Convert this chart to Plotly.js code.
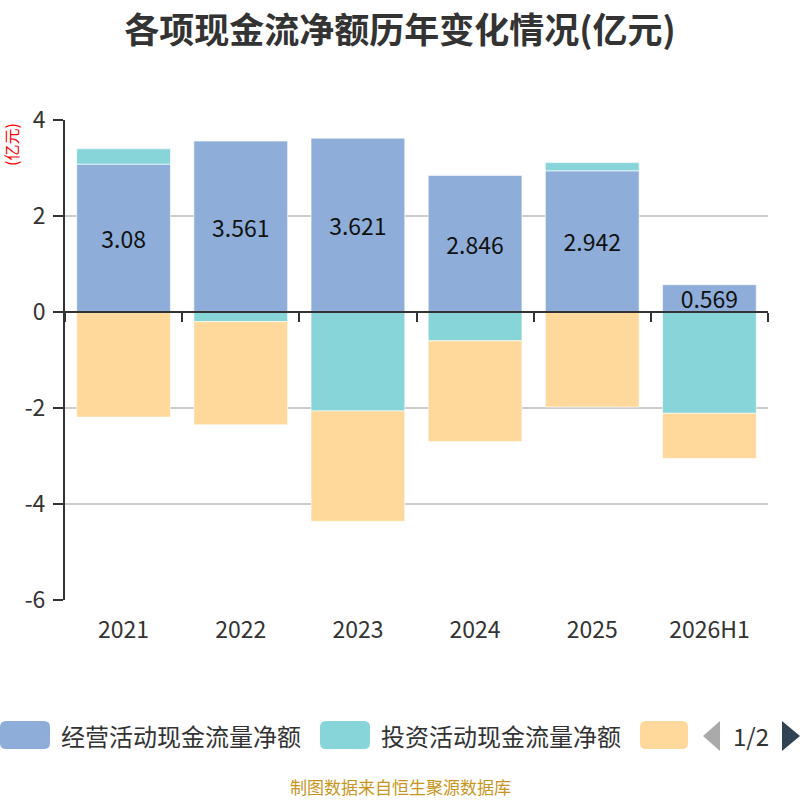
<!DOCTYPE html>
<html>
<head>
<meta charset="utf-8">
<script src="https://cdn.plot.ly/plotly-3.0.1.min.js"></script>
<style>
  html, body { margin: 0; padding: 0; background: #ffffff; }
  #chart { width: 800px; height: 800px; }
</style>
</head>
<body>
<div id="chart"></div>
<script>
// categories and series (亿元)
var years = ['2021', '2022', '2023', '2024', '2025', '2026H1'];
var operating = [3.08, 3.561, 3.621, 2.846, 2.942, 0.569];
var investing = [0.32, -0.20, -2.06, -0.60, 0.17, -2.11];
var financing = [-2.19, -2.15, -2.30, -2.10, -1.98, -0.94];
var yTickVals = [-6, -4, -2, 0, 2, 4];
var yTickText = ['-6', '-4', '-2', '0', '2', '4'];
var seriesNames = ['经营活动现金流量净额', '投资活动现金流量净额', '筹资活动现金流量净额'];
var seriesColors = ['#8eaed9', '#88d5d9', '#fed99b'];

var CJK = '"Noto Sans CJK SC", "Noto Sans", sans-serif';

// plot area in pixels, used to place the hand-drawn legend
var L = 65, R = 768, T = 120, B = 600;
function px(x) { return (x - L) / (R - L); }
function py(y) { return (B - y) / (B - T); }

function roundRect(x0, y0, x1, y1, r) {
  var p = function (x, y) { return px(x) + ',' + py(y); };
  return 'M' + p(x0 + r, y0) + ' L' + p(x1 - r, y0) + ' Q' + p(x1, y0) + ' ' + p(x1, y0 + r) +
    ' L' + p(x1, y1 - r) + ' Q' + p(x1, y1) + ' ' + p(x1 - r, y1) +
    ' L' + p(x0 + r, y1) + ' Q' + p(x0, y1) + ' ' + p(x0, y1 - r) +
    ' L' + p(x0, y0 + r) + ' Q' + p(x0, y0) + ' ' + p(x0 + r, y0) + ' Z';
}

function barTrace(vals, i) {
  return {
    type: 'bar',
    x: years,
    y: vals,
    name: seriesNames[i],
    marker: { color: seriesColors[i], line: { color: 'rgba(255,255,255,0.6)', width: 1 } },
    showlegend: false,
    hoverinfo: 'skip'
  };
}

var opTrace = barTrace(operating, 0);
opTrace.text = operating.map(String);
opTrace.textposition = 'inside';
opTrace.insidetextanchor = 'middle';
opTrace.constraintext = 'none';
opTrace.textfont = { family: CJK, size: 23, color: '#111111' };

// invisible helper on x2 so the zero-line axis gets the categories
var axisHelper = {
  type: 'scatter', x: years, y: years.map(function () { return 0; }),
  xaxis: 'x2', mode: 'markers', marker: { opacity: 0 },
  showlegend: false, hoverinfo: 'skip'
};

var data = [opTrace, barTrace(investing, 1), barTrace(financing, 2), axisHelper];

function legendText(txt, x, anchor) {
  return { text: txt, xref: 'paper', yref: 'paper', x: px(x), y: py(735),
    xanchor: anchor, yanchor: 'middle', showarrow: false,
    font: { family: CJK, size: 24, color: '#333333' } };
}

var shapes = [
  { type: 'path', xref: 'paper', yref: 'paper', path: roundRect(0, 721, 50, 749, 6), fillcolor: seriesColors[0], line: { width: 0 } },
  { type: 'path', xref: 'paper', yref: 'paper', path: roundRect(320, 721, 370, 749, 6), fillcolor: seriesColors[1], line: { width: 0 } },
  { type: 'path', xref: 'paper', yref: 'paper', path: roundRect(640, 721, 688, 749, 6), fillcolor: seriesColors[2], line: { width: 0 } },
  { type: 'path', xref: 'paper', yref: 'paper',
    path: 'M' + px(720) + ',' + py(721) + ' L' + px(720) + ',' + py(751) + ' L' + px(703) + ',' + py(736) + ' Z',
    fillcolor: '#aaaaaa', line: { width: 0 } },
  { type: 'path', xref: 'paper', yref: 'paper',
    path: 'M' + px(782) + ',' + py(721) + ' L' + px(782) + ',' + py(751) + ' L' + px(800) + ',' + py(736) + ' Z',
    fillcolor: '#2f4554', line: { width: 0 } }
];

var annotations = [
  { text: '(亿元)', xref: 'paper', yref: 'paper', x: px(11), y: py(145), textangle: -90,
    xanchor: 'center', yanchor: 'middle',
    showarrow: false, font: { family: CJK, size: 16, color: '#ff0000' } },
  legendText(seriesNames[0], 59, 'left'),
  legendText(seriesNames[1], 379, 'left'),
  legendText('1/2', 751, 'center'),
  { text: '制图数据来自恒生聚源数据库', xref: 'paper', yref: 'paper', x: px(400), y: py(786),
    xanchor: 'center', yanchor: 'middle',
    showarrow: false, font: { family: CJK, size: 17, color: '#c8961e' } }
];

var layout = {
  width: 800,
  height: 800,
  margin: { l: L, r: 800 - R, t: T, b: 800 - B },
  paper_bgcolor: '#ffffff',
  plot_bgcolor: '#ffffff',
  title: {
    text: '<b>各项现金流净额历年变化情况(亿元)</b>',
    x: 0.5, xref: 'container', xanchor: 'center',
    y: 0.962, yref: 'container', yanchor: 'middle',
    font: { family: CJK, size: 35, color: '#333333' }
  },
  barmode: 'relative',
  bargap: 0.2,
  hovermode: false,
  showlegend: false,
  xaxis: {
    type: 'category',
    showline: false, showgrid: false, zeroline: false, ticks: '',
    ticklabelstandoff: 14,
    tickfont: { family: CJK, size: 23, color: '#333333' }
  },
  xaxis2: {
    type: 'category', overlaying: 'x', matches: 'x', anchor: 'free', position: 0.6,
    showline: true, linecolor: '#333333', linewidth: 2,
    ticks: 'outside', tickson: 'boundaries', ticklen: 9, tickwidth: 2, tickcolor: '#333333',
    showticklabels: false, showgrid: false, zeroline: false
  },
  yaxis: {
    range: [-6, 4],
    tickmode: 'array', tickvals: yTickVals, ticktext: yTickText,
    showline: true, linecolor: '#333333', linewidth: 2,
    ticks: 'outside', ticklen: 10, tickwidth: 2, tickcolor: '#333333',
    ticklabelstandoff: 3,
    showgrid: true, gridcolor: '#cccccc', gridwidth: 1.5,
    zeroline: false,
    tickfont: { family: CJK, size: 23, color: '#333333' }
  },
  shapes: shapes,
  annotations: annotations
};

Plotly.newPlot('chart', data, layout, { displayModeBar: false, staticPlot: true });
</script>
</body>
</html>
